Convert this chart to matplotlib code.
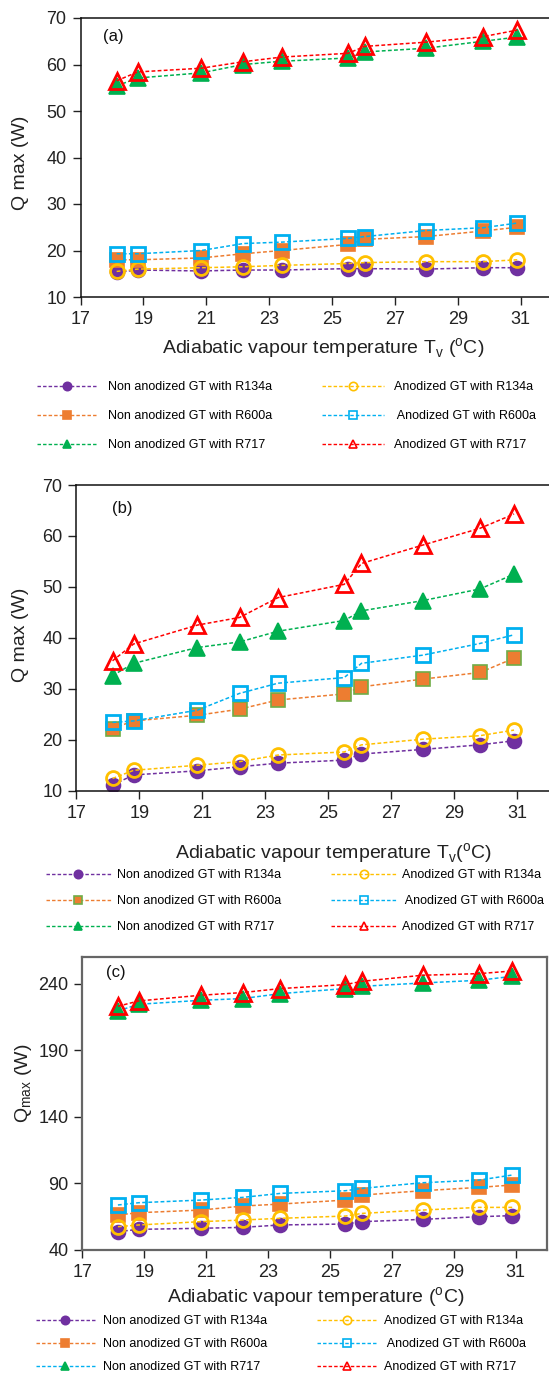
import numpy as np
import matplotlib.pyplot as plt
from matplotlib.lines import Line2D

plt.rcParams['font.family'] = ['Liberation Sans', 'DejaVu Sans']
plt.rcParams['mathtext.fontset'] = 'custom'
plt.rcParams['mathtext.rm'] = 'Liberation Sans'

# adiabatic vapour temperature (same points in all three panels)
tv = [18.15, 18.82, 20.84, 22.18, 23.40, 25.50, 26.05, 27.99, 29.81, 30.89]

# panel (a)
a_na_r134a = [15.3, 15.8, 15.6, 15.8, 15.8, 16.1, 16.1, 16.0, 16.3, 16.3]
a_an_r134a = [15.5, 16.0, 16.3, 16.5, 16.8, 17.2, 17.4, 17.6, 17.6, 18.0]
a_na_r600a = [18.0, 18.0, 18.4, 19.3, 20.0, 21.3, 22.4, 23.0, 24.2, 25.0]
a_an_r600a = [19.3, 19.3, 20.0, 21.5, 21.8, 22.6, 23.0, 24.3, 24.9, 25.9]
a_na_r717 = [55.4, 57.1, 58.2, 60.0, 60.7, 61.4, 62.7, 63.5, 65.0, 65.9]
a_an_r717 = [56.5, 58.4, 59.2, 60.6, 61.6, 62.4, 63.9, 64.8, 66.0, 67.4]

# panel (b)
b_na_r134a = [11.1, 13.1, 13.9, 14.7, 15.4, 16.0, 17.2, 18.1, 19.0, 19.8]
b_an_r134a = [12.4, 14.0, 15.0, 15.7, 17.0, 17.6, 19.0, 20.1, 20.8, 21.9]
b_na_r600a = [22.2, 23.7, 24.8, 26.0, 27.8, 29.0, 30.4, 31.9, 33.2, 36.0]
b_an_r600a = [23.4, 23.7, 25.8, 29.1, 31.1, 32.2, 35.0, 36.6, 38.9, 40.6]
b_na_r717 = [32.6, 35.0, 38.1, 39.2, 41.3, 43.4, 45.3, 47.3, 49.6, 52.5]
b_an_r717 = [35.5, 38.8, 42.5, 44.0, 47.9, 50.5, 54.6, 58.2, 61.5, 64.3]

# panel (c)
c_na_r134a = [53.8, 55.5, 56.3, 57.0, 58.8, 59.5, 61.3, 63.0, 65.0, 65.8]
c_an_r134a = [57.5, 58.8, 61.3, 62.5, 63.8, 65.5, 67.5, 70.0, 72.0, 72.0]
c_na_r600a = [66.3, 68.0, 70.0, 73.0, 74.5, 77.5, 81.3, 84.5, 87.0, 88.8]
c_an_r600a = [73.8, 75.5, 77.5, 79.5, 82.5, 84.5, 86.3, 90.5, 92.5, 96.3]
c_na_r717 = [219.5, 224.5, 227.5, 228.8, 232.5, 236.3, 238.0, 240.5, 242.5, 245.5]
c_an_r717 = [223.0, 227.0, 231.3, 233.3, 236.3, 239.3, 241.8, 246.3, 247.5, 249.5]

labels = ['Non anodized GT with R134a', 'Non anodized GT with R600a',
          'Non anodized GT with R717', 'Anodized GT with R134a',
          ' Anodized GT with R600a', 'Anodized GT with R717']

purple, orange, green = '#7030a0', '#ed7d31', '#00b050'
yellow, blue, red = '#ffc000', '#00b0f0', '#ff0000'

W, H = 549.0, 1376.0
fig = plt.figure(figsize=(W / 100, H / 100), dpi=100)


def rect(l, t, r, b):
    return [l / W, 1 - b / H, (r - l) / W, (b - t) / H]


def styles(sq_edge, r717_line):
    # (line colour, marker, face, edge, size)
    return [(purple, 'o', purple, purple, 10),
            (orange, 's', orange, sq_edge, 10),
            (r717_line, '^', green, green, 11),
            (yellow, 'o', 'none', yellow, 10),
            (blue, 's', 'none', blue, 10),
            (red, '^', 'none', red, 11)]


def panel(box, series, ylim, yticks, tag, tagxy, ylabel, ylab_xy, xlabel,
          xlab_xy, leg, st, xmax, frame):
    ax = fig.add_axes(rect(*box))
    for ys, (lc, mk, fc, ec, ms) in zip(series, st):
        ax.plot(tv, ys, color=lc, ls=(0, (2.5, 1.5)), lw=1.1, marker=mk,
                ms=ms, mfc=fc, mec=ec, mew=2 if fc == 'none' else 1.2)
    ax.set_xlim(17, xmax)
    ax.set_ylim(*ylim)
    ax.set_xticks(range(17, 32, 2))
    ax.set_yticks(yticks)
    ax.tick_params(direction='out', length=6, width=1, labelsize=13,
                   colors='#222222', pad=4)
    if frame:
        for s in ax.spines.values():
            s.set_color('#666666')
            s.set_linewidth(1.6)
    else:
        ax.spines['right'].set_visible(False)
        for s in ax.spines.values():
            s.set_color('#111111')
            s.set_linewidth(1.1)
    ax.set_ylabel(ylabel, fontsize=14, color='#222222')
    ax.yaxis.set_label_coords(*ylab_xy)
    ax.set_xlabel(xlabel, fontsize=14, color='#222222')
    ax.xaxis.set_label_coords(*xlab_xy)
    fig.text(tagxy[0] / W, 1 - tagxy[1] / H, tag, fontsize=12,
             ha='center', va='center', color='#111111')
    lx, ly, hl, hp, cs, ls = leg
    handles = [Line2D([], [], color=lc, ls=(0, (2.5, 1.5)), lw=1.0,
                      marker=mk, ms=6, mfc=fc, mec=ec, mew=1.2)
               for lc, mk, fc, ec, ms in st]
    fig.legend(handles, labels, ncol=2, loc='upper left',
               bbox_to_anchor=(lx / W, 1 - ly / H),
               frameon=False, fontsize=9, handlelength=hl,
               handletextpad=hp, columnspacing=cs, labelspacing=ls,
               borderpad=0, borderaxespad=0)
    return ax


xl_ab = r'Adiabatic vapour temperature T$_\mathregular{v}$ ($^\mathregular{o}$C)'
xl_b = r'Adiabatic vapour temperature T$_\mathregular{v}$($^\mathregular{o}$C)'
xl_c = r'Adiabatic vapour temperature ($^\mathregular{o}$C)'

panel((80.5, 18, 549, 297),
      [a_na_r134a, a_na_r600a, a_na_r717, a_an_r134a, a_an_r600a, a_an_r717],
      (10, 70), range(10, 71, 10), '(a)', (113.8, 36.7), 'Q max (W)',
      (-0.11, 0.48), xl_ab, (0.518, -0.141), (36.8, 381.5, 4.9, 0.8, 4.0, 1.35),
      styles(orange, green), 31.9, False)

panel((76.3, 485, 549, 790.7),
      [b_na_r134a, b_na_r600a, b_na_r717, b_an_r134a, b_an_r600a, b_an_r717],
      (10, 70), range(10, 71, 10), '(b)', (122.5, 508.3), 'Q max (W)',
      (-0.10, 0.51), xl_b, (0.545, -0.164), (45.5, 869.5, 5.2, 0.5, 4.0, 1.1),
      styles('#70ad47', green), 32, False)

panel((82.3, 957, 546.7, 1250),
      [c_na_r134a, c_na_r600a, c_na_r717, c_an_r134a, c_an_r600a, c_an_r717],
      (40, 260), [40, 90, 140, 190, 240], '(c)', (115.5, 972.7),
      r'Q$_\mathregular{max}$ (W)', (-0.105, 0.57),
      xl_c, (0.503, -0.12), (36, 1315, 4.7, 0.65, 4.0, 0.9),
      styles(orange, blue), 32, True)

fig.savefig('out.png', dpi=100)
